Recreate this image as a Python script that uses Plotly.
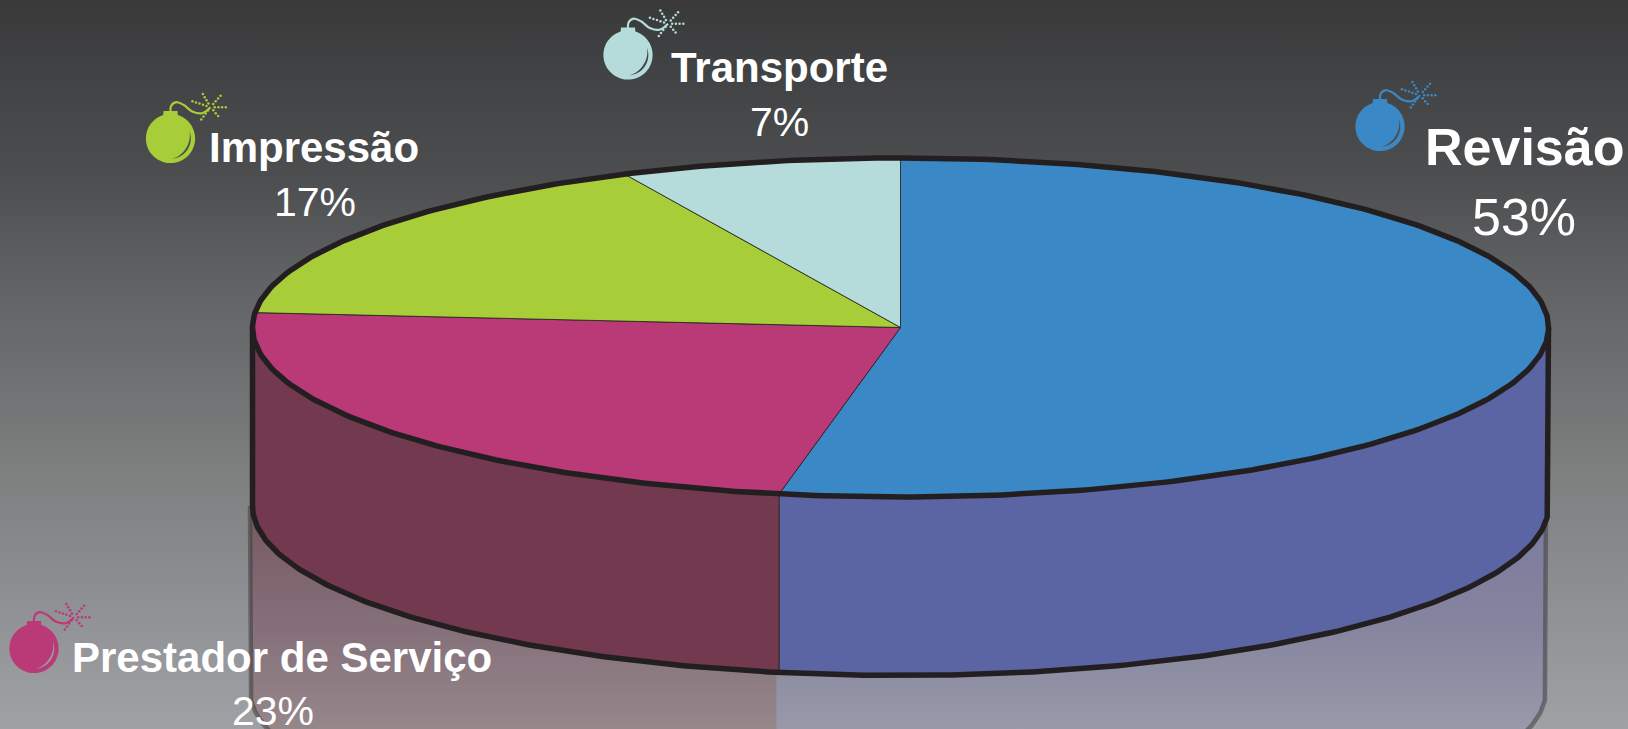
import numpy as np
import plotly.graph_objects as go

# ---- data ----
categories = ["Revisão", "Prestador de Serviço", "Impressão", "Transporte"]
shares = [53, 23.4, 16.6, 7]
top_colors = ["#3b88c6", "#ba3977", "#a7ce38", "#b5dcdb"]
side_colors = ["#5b65a3", "#72394f", "#a7ce38", "#b5dcdb"]
highlight_colors = ["#4b4c4e", "#9a9b9d", "#4e4f51", "#424345"]

W, H = 1628, 729
CX, CY, RX, RY, DEPTH = 900.5, 327.5, 648.0, 169.5, 178.5
REFL_DROP, REFL_DX = 184.0, -2.5
OUTLINE = "#231f20"

# label settings: name size, name x, name baseline, pct size, pct x, pct baseline, bomb x, bomb y
label_pos = {
    "Revisão": (52, 1524, 164, 52, 1524, 234, 1380, 126.5),
    "Prestador de Serviço": (42, 282, 671, 41, 273, 725, 34, 648.5),
    "Impressão": (42, 314, 161, 41, 315, 216, 170.5, 138.5),
    "Transporte": (42, 779, 81, 41, 779, 135.5, 628, 55),
}

bg_stops = [(0, "#393939"), (70 / H, "#414244"), (180 / H, "#4d4e50"), (270 / H, "#5f6062"),
            (480 / H, "#7f8080"), (580 / H, "#8c8d90"), (1, "#a0a1a4")]

fig = go.Figure()


def poly(x, y, color, line=None, width=0, **kw):
    fig.add_trace(go.Scatter(
        x=list(x), y=list(y), fill="toself", fillcolor=color,
        mode="lines" if line else "none",
        line=dict(color=line, width=width) if line else None,
        hoverinfo="skip", showlegend=False, **kw))


def curve(x, y, color, width, shape="linear"):
    fig.add_trace(go.Scatter(x=list(x), y=list(y), mode="lines",
                             line=dict(color=color, width=width, shape=shape),
                             hoverinfo="skip", showlegend=False))


def rim(theta, cy=CY, cx=CX):
    # theta: clockwise from 12 o'clock, radians
    return cx + RX * np.sin(theta), cy - RY * np.cos(theta)


# background
fig.add_trace(go.Scatter(
    x=[0, W, W, 0, 0], y=[0, 0, H, H, 0], fill="toself", mode="none",
    fillgradient=dict(type="vertical", colorscale=bg_stops, start=0, stop=H),
    hoverinfo="skip", showlegend=False))

# wedge angles
cum = np.cumsum([0] + shares) / sum(shares) * 2 * np.pi
wedges = [(cum[i], cum[i + 1]) for i in range(len(shares))]
front = [(a, min(b, 1.5 * np.pi)) for a, b in wedges if a < 1.5 * np.pi]
front = [(max(a, 0.5 * np.pi), b) for a, b in front]

# reflection under the wall
refl_scales = [
    [(0, "#7a7a9c"), (0.55, "#85859f"), (1, "#9999a9")],
    [(0, "#76585f"), (0.55, "#85707a"), (1, "#96878b")],
]
for (a, b), scale in zip(front, refl_scales):
    t = np.linspace(a, b, 120)
    xl, yl = rim(t, CY + DEPTH + REFL_DROP, CX + REFL_DX)
    xu, yu = rim(t[::-1], CY + DEPTH, CX + REFL_DX)
    fig.add_trace(go.Scatter(
        x=np.r_[xl, xu], y=np.r_[yl, yu], fill="toself", mode="none",
        fillgradient=dict(type="vertical", colorscale=scale, start=CY + DEPTH, stop=H),
        hoverinfo="skip", showlegend=False))
t = np.linspace(0.5 * np.pi, 0.72 * np.pi, 60)
xr, yr = rim(t, CY + DEPTH + REFL_DROP, CX + REFL_DX)
curve(np.r_[xr[0], xr], np.r_[CY + DEPTH, yr], "rgba(55,55,55,0.5)", 4.5)
t = np.linspace(1.5 * np.pi, 1.28 * np.pi, 60)
xr, yr = rim(t, CY + DEPTH + REFL_DROP, CX + REFL_DX)
curve(np.r_[xr[0], xr], np.r_[CY + DEPTH, yr], "rgba(55,55,55,0.5)", 4.5)

# side walls
for (a, b), color in zip(front, side_colors):
    t = np.linspace(a, b, 200)
    xu, yu = rim(t, CY)
    xl, yl = rim(t[::-1], CY + DEPTH)
    poly(np.r_[xu, xl], np.r_[yu, yl], color)
xs, ys = rim(np.array([wedges[0][1]]), CY)
curve([xs[0], xs[0]], [ys[0], ys[0] + DEPTH], "#3b3035", 1.5)
t = np.linspace(0.5 * np.pi, 1.5 * np.pi, 300)
xl, yl = rim(t, CY + DEPTH)
curve(np.r_[CX + RX, xl, CX - RX], np.r_[CY, yl, CY], OUTLINE, 5.5)

# top face
for (a, b), color, name in zip(wedges, top_colors, categories):
    t = np.linspace(a, b, 240)
    xt, yt = rim(t)
    poly(np.r_[CX, xt, CX], np.r_[CY, yt, CY], color, line=OUTLINE, width=0.8, name=name)
t = np.linspace(0, 2 * np.pi, 500)
xt, yt = rim(t)
curve(xt, yt, OUTLINE, 5.5)


# bombs
def bomb(bx, by, color, hi):
    a = np.linspace(0, 2 * np.pi, 90)
    poly(bx + 24.6 * np.cos(a), by + 24.6 * np.sin(a), color)
    poly(bx + np.array([-7, 7, 7.5, -7.5]), by + np.array([-27.5, -27.5, -21, -21]), color)
    s = np.linspace(0, 1, 40)
    ang = np.radians(-22 + 108 * s)
    r_in = 20.3 - 2.0 * np.sin(np.pi * s)
    poly(np.r_[bx + 20.3 * np.cos(ang), bx + (r_in * np.cos(ang))[::-1]],
         np.r_[by + 20.3 * np.sin(ang), by + (r_in * np.sin(ang))[::-1]], hi)
    curve(bx + np.array([0, 0.7, 5.7, 13, 21.7, 31.7, 40]),
          by + np.array([-26, -32.7, -36.3, -33.7, -27, -25.3, -31.3]),
          color, 2.2, "spline")
    sx, sy = bx + 40, by - 31.3
    dx, dy = [], []
    for deg, n in [(0, 4), (49, 3), (127, 4), (-49, 4), (-120, 4), (-162, 5)]:
        for k in range(1, n + 1):
            dx.append(sx + (0.5 + 3.7 * k) * np.cos(np.radians(deg)))
            dy.append(sy + (0.5 + 3.7 * k) * np.sin(np.radians(deg)))
    fig.add_trace(go.Scatter(x=dx, y=dy, mode="markers",
                             marker=dict(color=color, size=2.5, symbol="circle"),
                             hoverinfo="skip", showlegend=False))


for name, color, hi in zip(categories, top_colors, highlight_colors):
    lp = label_pos[name]
    bomb(lp[6], lp[7], color, hi)

FONT = "Liberation Sans"
for name, val in zip(categories, shares):
    s1, x1, y1, s2, x2, y2, _, _ = label_pos[name]
    fig.add_annotation(x=x1, y=y1 - 0.33 * s1, text=f"<b>{name}</b>", showarrow=False,
                       xanchor="center", yanchor="middle", borderpad=0,
                       font=dict(family=FONT, size=s1, color="white"))
    fig.add_annotation(x=x2, y=y2 - 0.33 * s2, text=f"{round(val)}%", showarrow=False,
                       xanchor="center", yanchor="middle", borderpad=0,
                       font=dict(family=FONT, size=s2, color="white"))

fig.update_layout(
    width=W, height=H, margin=dict(l=0, r=0, t=0, b=0),
    paper_bgcolor="#6b6c6e", plot_bgcolor="#6b6c6e", showlegend=False,
    xaxis=dict(range=[0, W], visible=False, fixedrange=True),
    yaxis=dict(range=[H, 0], visible=False, fixedrange=True),
)
fig.write_html("out.html", config={"displayModeBar": False},
               post_script="document.body.style.margin='0';document.documentElement.style.overflow='hidden';")
